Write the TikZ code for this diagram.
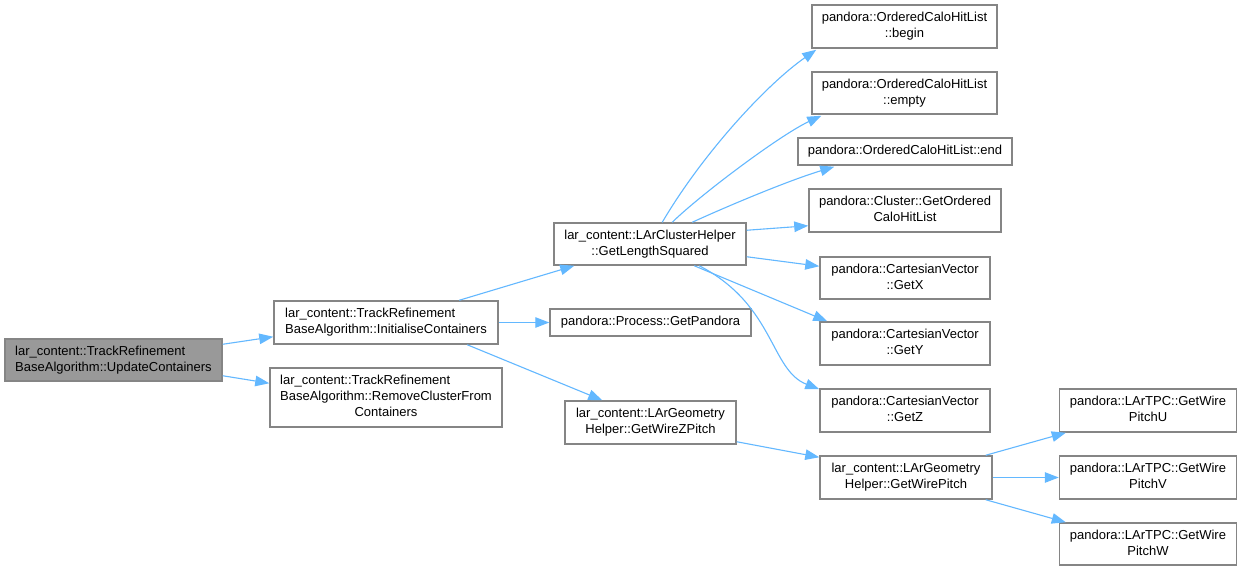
\documentclass[tikz,border=0pt]{standalone}
\usepackage{fontspec}
\setmainfont{Liberation Sans}
\usetikzlibrary{arrows.meta,calc}
\definecolor{edgeblue}{HTML}{63B8FF}
\definecolor{nodeborder}{HTML}{858585}
\definecolor{rootfill}{HTML}{999999}
\newcommand{\Ltwo}[2]{\begin{tabular}{@{}l@{}}#1\\\multicolumn{1}{@{}c@{}}{#2}\end{tabular}}
\newcommand{\Lthree}[3]{\begin{tabular}{@{}l@{}}#1\\#2\\\multicolumn{1}{@{}c@{}}{#3}\end{tabular}}
\tikzset{
  fn/.style={draw=nodeborder, line width=1.5pt, fill=white, inner sep=0pt, anchor=center,
    font=\fontsize{13}{16}\selectfont, text=black},
  rootfn/.style={fn, fill=rootfill},
  edge/.style={draw=edgeblue, line width=1.1pt, -{Triangle[length=14pt,width=10.5pt]}, fill=none},
}
\begin{document}
\begin{tikzpicture}[x=1pt,y=-1pt]
\useasboundingbox (0,0) rectangle (1241,571);
\fill[white] (0,0) rectangle (1241,571);
% nodes
\node[rootfn, minimum width=217pt, minimum height=42pt] (A) at (113.5,360) {\Ltwo{lar\_content::TrackRefinement}{BaseAlgorithm::UpdateContainers}};
\node[fn, minimum width=224pt, minimum height=43pt] (B) at (386,322.5) {\Ltwo{lar\_content::TrackRefinement}{BaseAlgorithm::InitialiseContainers}};
\node[fn, minimum width=232pt, minimum height=59pt] (C) at (386,397.5) {\Lthree{lar\_content::TrackRefinement}{BaseAlgorithm::RemoveClusterFrom}{Containers}};
\node[fn, minimum width=192pt, minimum height=42pt] (D) at (650,244) {\Ltwo{lar\_content::LArClusterHelper}{::GetLengthSquared}};
\node[fn, minimum width=185pt, minimum height=43pt] (E) at (904.5,26.5) {\Ltwo{pandora::OrderedCaloHitList}{::begin}};
\node[fn, minimum width=185pt, minimum height=42pt] (F) at (904.5,93) {\Ltwo{pandora::OrderedCaloHitList}{::empty}};
\node[fn, minimum width=214pt, minimum height=27pt] (G) at (905,151.5) {pandora::OrderedCaloHitList::end};
\node[fn, minimum width=192pt, minimum height=43pt] (H) at (905,210.5) {\Ltwo{pandora::Cluster::GetOrdered}{CaloHitList}};
\node[fn, minimum width=170pt, minimum height=42pt] (I) at (905,278) {\Ltwo{pandora::CartesianVector}{::GetX}};
\node[fn, minimum width=170pt, minimum height=43pt] (J) at (905,343.5) {\Ltwo{pandora::CartesianVector}{::GetY}};
\node[fn, minimum width=170pt, minimum height=43pt] (K) at (905,410.5) {\Ltwo{pandora::CartesianVector}{::GetZ}};
\node[fn, minimum width=201pt, minimum height=27pt] (L) at (650.5,322.5) {pandora::Process::GetPandora};
\node[fn, minimum width=171pt, minimum height=43pt] (M) at (650.5,422.5) {\Ltwo{lar\_content::LArGeometry}{Helper::GetWireZPitch}};
\node[fn, minimum width=172pt, minimum height=43pt] (N) at (906,477.5) {\Ltwo{lar\_content::LArGeometry}{Helper::GetWirePitch}};
\node[fn, minimum width=177pt, minimum height=43pt] (O) at (1148,410.5) {\Ltwo{pandora::LArTPC::GetWire}{PitchU}};
\node[fn, minimum width=177pt, minimum height=43pt] (P) at (1148,477.5) {\Ltwo{pandora::LArTPC::GetWire}{PitchV}};
\node[fn, minimum width=177pt, minimum height=42pt] (Q) at (1148,544) {\Ltwo{pandora::LArTPC::GetWire}{PitchW}};
% edges
\draw[edge] ($(A.north east)+(0,6)$) -- ($(B.south west)+(0,-8)$);
\draw[edge] ($(A.south east)+(0,-6)$) -- ($(C.north west)+(0,16)$);
\draw[edge] ($(B.north west)+(186,0)$) -- ($(D.south west)+(21,0)$);
\draw[edge] (B.east) -- (L.west);
\draw[edge] ($(B.south west)+(194,0)$) -- ($(M.north west)+(38,0)$);
\draw[edge] ($(D.north west)+(109,0)$) .. controls (703,153) and (767,84) .. ($(E.south west)+(5,1)$);
\draw[edge] ($(D.north west)+(119,0)$) .. controls (700,195) and (780,135) .. ($(F.south west)+(10,1)$);
\draw[edge] ($(D.north west)+(139,0)$) .. controls (730,205) and (790,180) .. ($(G.south west)+(37,1)$);
\draw[edge] ($(D.north east)+(0,8)$) -- ($(H.south west)+(0,-7)$);
\draw[edge] ($(D.south east)+(0,-9)$) -- ($(I.north west)+(0,10)$);
\draw[edge] ($(D.south west)+(141,0)$) -- ($(J.north west)+(8,0)$);
\draw[edge] ($(D.south west)+(146,0)$) .. controls (775,305) and (770,370) .. ($(K.north west)+(0,1)$);
\draw[edge] ($(M.south east)+(0,-3)$) -- ($(N.north west)+(0,2)$);
\draw[edge] ($(N.north east)+(-7,0)$) -- ($(O.south west)+(7,0)$);
\draw[edge] (N.east) -- (P.west);
\draw[edge] ($(N.south east)+(-7,0)$) -- ($(Q.north west)+(7,0)$);
\end{tikzpicture}
\end{document}
